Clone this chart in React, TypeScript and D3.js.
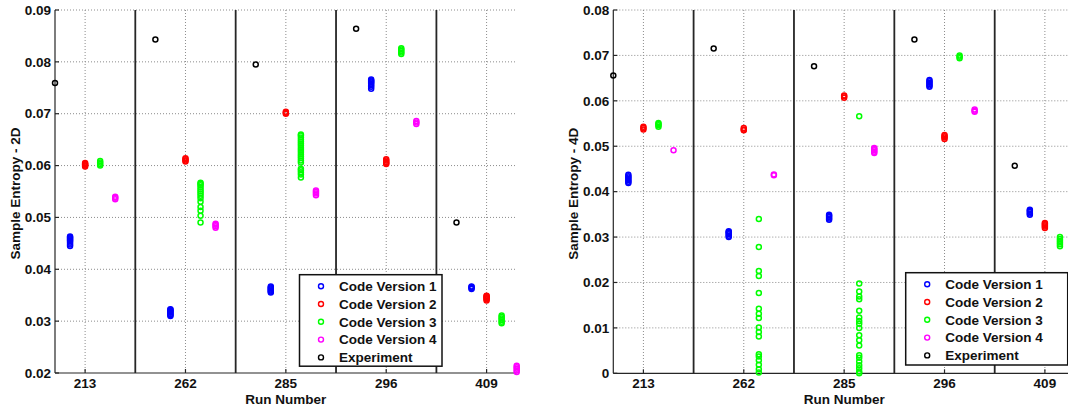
import * as d3 from 'd3'

// run numbers on the x axis
const runs = ['213', '262', '285', '296', '409']
const seriesNames = ['Code Version 1', 'Code Version 2', 'Code Version 3', 'Code Version 4', 'Experiment']
const seriesColors = ['#0000ff', '#ff0000', '#00ff00', '#ff00ff', '#000000']

// 2D sample entropy, one list per run
const v1_2D = [
  [0.0445, 0.0448, 0.0451, 0.0454, 0.0456, 0.0458, 0.046, 0.0462, 0.0463],
  [0.031, 0.0312, 0.0314, 0.0316, 0.0318, 0.032, 0.0322, 0.0323],
  [0.0355, 0.0357, 0.0359, 0.0361, 0.0363, 0.0365, 0.0367],
  [0.0748, 0.0752, 0.0755, 0.0758, 0.076, 0.0762, 0.0764, 0.0766],
  [0.0362, 0.0364, 0.0366, 0.0367],
]
const v2_2D = [
  [0.0598, 0.06, 0.0602, 0.0603, 0.0605],
  [0.0608, 0.061, 0.0612, 0.0614],
  [0.07, 0.0702, 0.0704],
  [0.0603, 0.0605, 0.0607, 0.061, 0.0612],
  [0.034, 0.0342, 0.0344, 0.0346, 0.0348, 0.0349],
]
const v3_2D = [
  [0.06, 0.0603, 0.0606, 0.0609],
  [0.049, 0.0503, 0.0513, 0.052, 0.053, 0.0537, 0.0542, 0.0546, 0.055, 0.0554, 0.0558, 0.0562, 0.0565, 0.0567],
  [0.0577, 0.0583, 0.0587, 0.0591, 0.0594, 0.0606, 0.061, 0.0614, 0.0618, 0.0622, 0.0626, 0.063, 0.0634, 0.0638, 0.0642, 0.0646, 0.065, 0.0654, 0.0658, 0.066],
  [0.0815, 0.0818, 0.0821, 0.0824, 0.0826],
  [0.0296, 0.0299, 0.0302, 0.0305, 0.0308, 0.0311],
]
const v4_2D = [
  [0.0535, 0.0538, 0.054],
  [0.048, 0.0483, 0.0486, 0.0488],
  [0.0543, 0.0546, 0.0549, 0.0552],
  [0.068, 0.0683, 0.0686],
  [0.0202, 0.0205, 0.0208, 0.0211, 0.0214],
]
const exp_2D = [0.0759, 0.0843, 0.0795, 0.0864, 0.049]

// 4D sample entropy
const v1_4D = [
  [0.0419, 0.0422, 0.0425, 0.0428, 0.0431, 0.0434, 0.0437],
  [0.03, 0.0303, 0.0306, 0.0309, 0.0311, 0.0313],
  [0.0338, 0.0341, 0.0344, 0.0347, 0.0349],
  [0.0631, 0.0634, 0.0637, 0.064, 0.0643, 0.0646],
  [0.0349, 0.0352, 0.0355, 0.0358, 0.036],
]
const v2_4D = [
  [0.0537, 0.054, 0.0543],
  [0.0535, 0.0537, 0.054],
  [0.0607, 0.061, 0.0612],
  [0.0516, 0.0519, 0.0522, 0.0525],
  [0.032, 0.0323, 0.0326, 0.0329, 0.0331],
]
const v3_4D = [
  [0.0543, 0.0546, 0.0549, 0.0551],
  [0.034, 0.0278, 0.0225, 0.0214, 0.0177, 0.0142, 0.0131, 0.0122, 0.0101, 0.0091, 0.0081, 0.0042, 0.0037, 0.0029, 0.0019, 0.0009, 0.0002],
  [0.0566, 0.0198, 0.018, 0.0169, 0.0163, 0.0138, 0.0123, 0.0115, 0.0109, 0.01, 0.0084, 0.0073, 0.0061, 0.004, 0.0034, 0.0026, 0.0018, 0.0011, 0.0004, 0],
  [0.0694, 0.0697, 0.07],
  [0.028, 0.0284, 0.0288, 0.0292, 0.0296, 0.03],
]
const v4_4D = [
  [0.0491],
  [0.0436, 0.0438],
  [0.0485, 0.0488, 0.0491, 0.0494, 0.0496],
  [0.0576, 0.0578, 0.0581],
  [],
]
const exp_4D = [0.0656, 0.0715, 0.0676, 0.0735, 0.0457]

const yTicks2D = ['0.02', '0.03', '0.04', '0.05', '0.06', '0.07', '0.08', '0.09']
const yTicks4D = ['0', '0.01', '0.02', '0.03', '0.04', '0.05', '0.06', '0.07', '0.08']

// x offset of each series inside a run group
const offsets = [-0.15, 0, 0.15, 0.3, -0.3]
const font = '"Liberation Sans", Arial, sans-serif'

type PanelProps = {
  left: number
  right: number
  top: number
  bottom: number
  yTicks: string[]
  yLabel: string
  versions: number[][][]
  exp: number[]
  legend: { x: number; y: number; w: number; h: number }
}

function Panel({ left, right, top, bottom, yTicks, yLabel, versions, exp, legend }: PanelProps) {
  const tickVals = yTicks.map(Number)
  const x = d3.scaleLinear([0.7, 5.3], [left, right])
  const y = d3.scaleLinear(d3.extent(tickVals) as [number, number], [bottom, top])
  const seps = d3.range(1.5, 5, 1)

  const points: { cx: number; cy: number; c: string }[] = []
  versions.forEach((v, si) =>
    v.forEach((vals, ri) =>
      vals.forEach((val) => points.push({ cx: x(ri + 1 + offsets[si]), cy: y(val), c: seriesColors[si] }))
    )
  )
  exp.forEach((val, ri) => points.push({ cx: x(ri + 1 + offsets[4]), cy: y(val), c: seriesColors[4] }))

  const midY = (top + bottom) / 2
  return (
    <g fontFamily={font} fontWeight="bold" fontSize={13.5}>
      {/* grid */}
      <g stroke="#8c8c8c" strokeWidth={1} strokeDasharray="1,2">
        {tickVals.slice(1).map((t) => (
          <line key={t} x1={left} x2={right} y1={y(t)} y2={y(t)} />
        ))}
        {runs.map((r, i) => (
          <line key={r} x1={x(i + 1)} x2={x(i + 1)} y1={top} y2={bottom} />
        ))}
      </g>
      {/* run separators */}
      <g stroke="#262626" strokeWidth={1.8}>
        {seps.map((s) => (
          <line key={s} x1={x(s)} x2={x(s)} y1={top} y2={bottom} />
        ))}
      </g>
      {/* axes */}
      <g stroke="#262626" strokeWidth={1.2}>
        <line x1={left} x2={left} y1={top} y2={bottom} />
        <line x1={left} x2={right} y1={bottom} y2={bottom} />
        {tickVals.map((t) => (
          <line key={t} x1={left} x2={left + 4} y1={y(t)} y2={y(t)} />
        ))}
        {runs.map((r, i) => (
          <line key={r} x1={x(i + 1)} x2={x(i + 1)} y1={bottom} y2={bottom - 4} />
        ))}
      </g>
      <g fill="#111">
        {yTicks.map((t, i) => (
          <text key={t} x={left - 4} y={y(tickVals[i]) + 4.7} textAnchor="end">
            {t}
          </text>
        ))}
        {runs.map((r, i) => (
          <text key={r} x={x(i + 1)} y={bottom + 15} textAnchor="middle">
            {r}
          </text>
        ))}
        <text x={(left + right) / 2} y={bottom + 31} textAnchor="middle">
          Run Number
        </text>
        <text transform={`translate(${left - 35},${midY + 2}) rotate(-90)`} textAnchor="middle">
          {yLabel}
        </text>
      </g>
      {/* points */}
      <g fill="none" strokeWidth={1.5}>
        {points.map((p, i) => (
          <circle key={i} cx={p.cx} cy={p.cy} r={2.5} stroke={p.c} />
        ))}
      </g>
      {/* legend */}
      <g>
        <rect x={legend.x} y={legend.y} width={legend.w} height={legend.h} fill="white" stroke="#111" strokeWidth={1.5} />
        {seriesNames.map((n, i) => {
          const cy = legend.y + 11.5 + i * 17.8
          return (
            <g key={n}>
              <circle cx={legend.x + 21.5} cy={cy} r={2.5} fill="none" stroke={seriesColors[i]} strokeWidth={1.4} />
              <text x={legend.x + 39.5} y={cy + 4.7} fill="#111">
                {n}
              </text>
            </g>
          )
        })}
      </g>
    </g>
  )
}

export default function App() {
  return (
    <svg width={1068} height={412} style={{ position: 'absolute', left: 0, top: 0, background: 'white' }}>
      <Panel
        left={55}
        right={516.7}
        top={10}
        bottom={373}
        yTicks={yTicks2D}
        yLabel="Sample Entropy - 2D"
        versions={[v1_2D, v2_2D, v3_2D, v4_2D]}
        exp={exp_2D}
        legend={{ x: 299.5, y: 274.7, w: 142.5, h: 91.5 }}
      />
      <Panel
        left={613.3}
        right={1075}
        top={10}
        bottom={373.3}
        yTicks={yTicks4D}
        yLabel="Sample Entropy - 4D"
        versions={[v1_4D, v2_4D, v3_4D, v4_4D]}
        exp={exp_4D}
        legend={{ x: 905.7, y: 272.7, w: 162, h: 92.3 }}
      />
    </svg>
  )
}
